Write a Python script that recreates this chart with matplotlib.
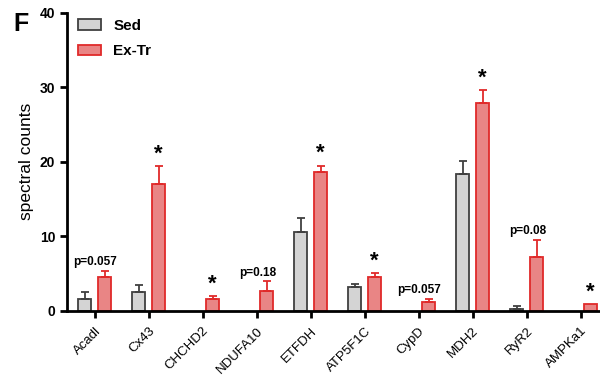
import matplotlib
matplotlib.use("Agg")
import matplotlib.pyplot as plt
import numpy as np

plt.rcParams['font.family'] = ['Liberation Sans', 'DejaVu Sans']

categories = ["Acadl", "Cx43", "CHCHD2", "NDUFA10", "ETFDH", "ATP5F1C", "CypD", "MDH2", "RyR2", "AMPKa1"]
sed_vals = [1.65, 2.6, 0.0, 0.0, 10.6, 3.2, 0.0, 18.3, 0.3, 0.0]
sed_err = [0.9, 0.95, 0.0, 0.0, 1.9, 0.45, 0.0, 1.8, 0.33, 0.0]
ex_vals = [4.55, 17.0, 1.57, 2.64, 18.6, 4.55, 1.2, 27.9, 7.2, 0.9]
ex_err = [0.8, 2.4, 0.4, 1.36, 0.9, 0.5, 0.46, 1.7, 2.36, 0.0]
annotations = ["p=0.057", "*", "*", "p=0.18", "*", "*", "p=0.057", "*", "p=0.08", "*"]

fig = plt.figure(figsize=(6, 3.76), dpi=100)
ax = fig.add_axes([0.1117, 0.1729, 0.8866, 0.7935])

x = np.arange(len(categories))
off = 0.185
w = 0.246
sed_face, sed_edge = "#d4d4d4", "#404040"
ex_face, ex_edge = "#e98585", "#e02a2a"

sed_arr = np.array(sed_vals, dtype=float)
ex_arr = np.array(ex_vals, dtype=float)
sed_e = np.array(sed_err, dtype=float)
ex_e = np.array(ex_err, dtype=float)
sed_show = np.where(sed_arr > 0, sed_arr, np.nan)
ex_show = np.where(ex_arr > 0, ex_arr, np.nan)

ax.bar(x - off, sed_show, width=w, color=sed_face, edgecolor=sed_edge, linewidth=1.3, label="Sed", zorder=2)
ax.bar(x + off, ex_show, width=w, color=ex_face, edgecolor=ex_edge, linewidth=1.3, label="Ex-Tr", zorder=2)
m = sed_e > 0
ax.errorbar((x - off)[m], sed_arr[m], yerr=[np.zeros(m.sum()), sed_e[m]], fmt="none", ecolor=sed_edge,
            elinewidth=1.3, capsize=3, capthick=1.3, zorder=3)
m2 = ex_e > 0
ax.errorbar((x + off)[m2], ex_arr[m2], yerr=[np.zeros(m2.sum()), ex_e[m2]], fmt="none", ecolor=ex_edge,
            elinewidth=1.3, capsize=3, capthick=1.3, zorder=3)

for i, a in enumerate(annotations):
    top = ex_vals[i] + ex_err[i]
    if a == "*":
        ax.text(x[i] + off, top + 0.2, "*", ha="center", va="bottom", fontsize=16, fontweight="bold")
    else:
        ax.text(x[i] + off - 0.17, top + 0.35, a, ha="center", va="bottom", fontsize=8.5, fontweight="bold")

ax.set_xlim(-0.51, 9.34)
ax.set_ylim(0, 40)
ax.set_yticks([0, 10, 20, 30, 40])
ax.set_xticks(x)
ax.set_xticklabels(categories, rotation=45, ha="right", rotation_mode="anchor", fontsize=9.5)
for lbl in ax.get_yticklabels():
    lbl.set_fontweight("bold")
    lbl.set_fontsize(10)
ax.set_ylabel("spectral counts", fontsize=12.5, labelpad=4)

for s in ["top", "right"]:
    ax.spines[s].set_visible(False)
for s in ["left", "bottom"]:
    ax.spines[s].set_linewidth(2)
ax.tick_params(axis="both", width=2, length=5, direction="out")
ax.tick_params(axis="x", pad=5)

leg = ax.legend(loc="upper left", bbox_to_anchor=(-0.005, 1.025), frameon=False,
                prop={"weight": "bold", "size": 11}, handlelength=1.5, handleheight=0.65,
                labelspacing=0.75, handletextpad=0.8)

fig.text(0.022, 0.917, "F", fontsize=18, fontweight="bold")

fig.savefig("out.png", dpi=100)
